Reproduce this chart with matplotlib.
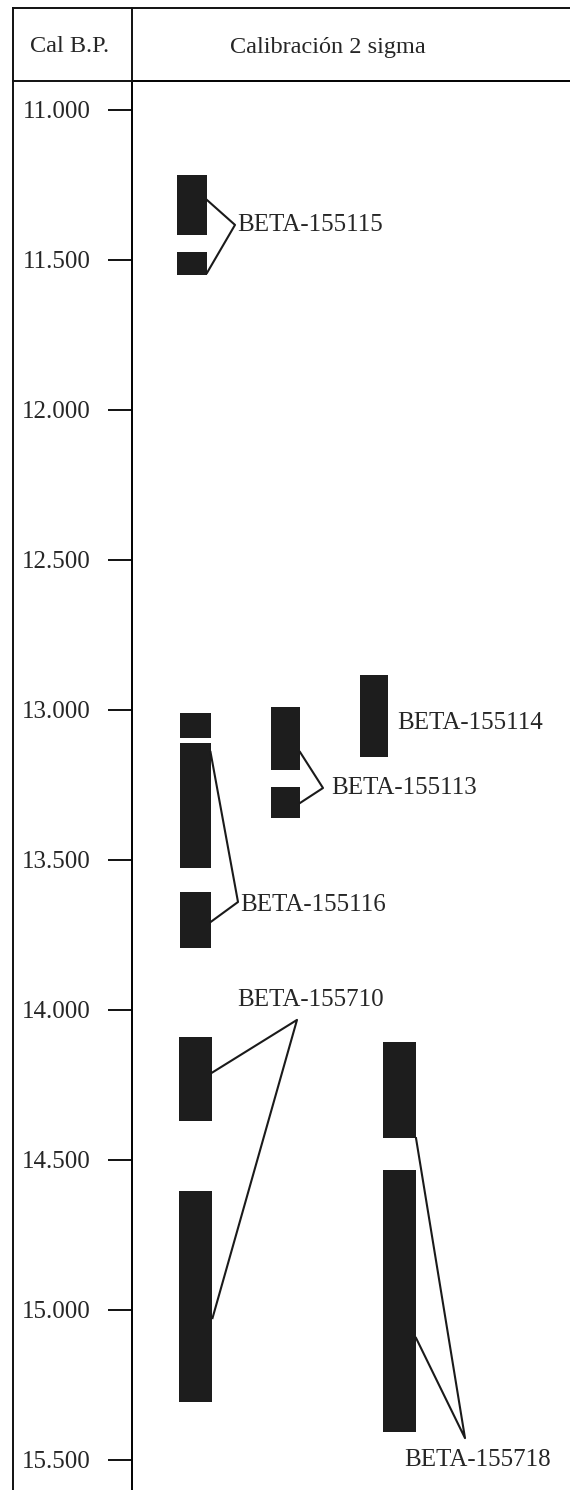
import matplotlib
matplotlib.use("Agg")
import matplotlib.pyplot as plt
from matplotlib.lines import Line2D

# ---------------- data ----------------
tick_values = [11000, 11500, 12000, 12500, 13000, 13500, 14000, 14500, 15000, 15500]
tick_labels = ["11.000", "11.500", "12.000", "12.500", "13.000",
               "13.500", "14.000", "14.500", "15.000", "15.500"]

samples = ["BETA-155115", "BETA-155116", "BETA-155113", "BETA-155114",
           "BETA-155710", "BETA-155718"]
# 2-sigma calibrated ranges (cal B.P.), start/end per segment
b155115_start = [11217, 11473]
b155115_end = [11417, 11550]
b155116_start = [13010, 13110, 13607]
b155116_end = [13093, 13527, 13793]
b155113_start = [12990, 13257]
b155113_end = [13200, 13360]
b155114_start = [12883]
b155114_end = [13157]
b155710_start = [14090, 14603]
b155710_end = [14370, 15307]
b155718_start = [14107, 14533]
b155718_end = [14427, 15407]

# ---------------- figure ----------------
W, H = 570, 1490
DPI = 100
fig = plt.figure(figsize=(W / DPI, H / DPI), dpi=DPI)
FONT = "Liberation Serif"
plt.rcParams["font.family"] = FONT
TXT = "#262626"

def fx(px):
    return px / W

def fy(py):
    return 1 - py / H

left_px, top_px = 132, 81
ax = fig.add_axes([fx(left_px), 0, 1 - fx(left_px), fy(top_px)])
ax.set_xlim(left_px, W)
k = 0.300          # px per year
y11000 = 110       # px position of 11.000
y_top = 11000 - (y11000 - top_px) / k
y_bot = 11000 + (H - y11000) / k
ax.set_ylim(y_bot, y_top)

for s in ["right", "bottom"]:
    ax.spines[s].set_visible(False)
ax.spines["left"].set_linewidth(1.4)
ax.spines["top"].set_linewidth(1.4)
ax.set_xticks([])
ax.set_yticks(tick_values)
ax.set_yticklabels(tick_labels, fontsize=18, family=FONT)
ax.tick_params(axis="y", direction="out", length=17, width=1.4, pad=13,
               colors="#111111", labelcolor=TXT)

bar_color = "#1d1d1d"
cols = {"BETA-155115": 192, "BETA-155116": 195, "BETA-155113": 285.5,
        "BETA-155114": 374, "BETA-155710": 195, "BETA-155718": 399.5}
widths = {"BETA-155115": 30, "BETA-155116": 31, "BETA-155113": 29,
          "BETA-155114": 28, "BETA-155710": 33, "BETA-155718": 33}
series = {
    "BETA-155115": (b155115_start, b155115_end),
    "BETA-155116": (b155116_start, b155116_end),
    "BETA-155113": (b155113_start, b155113_end),
    "BETA-155114": (b155114_start, b155114_end),
    "BETA-155710": (b155710_start, b155710_end),
    "BETA-155718": (b155718_start, b155718_end),
}
for name in samples:
    st, en = series[name]
    ax.bar([cols[name]] * len(st), [e - s for s, e in zip(st, en)], bottom=st,
           width=widths[name], color=bar_color, edgecolor="none", linewidth=0)

lw = 1.5
lc = "#1a1a1a"
fs = 18

def rx(name):
    return cols[name] + widths[name] / 2

n = "BETA-155115"
ax.plot([rx(n), 235, rx(n)], [11300, 11383, 11543], color=lc, lw=lw)
ax.text(237, 11383, n, fontsize=fs, va="center", ha="left", color=TXT)

n = "BETA-155116"
ax.plot([rx(n), 238, rx(n)], [13140, 13640, 13707], color=lc, lw=lw)
ax.text(240, 13650, n, fontsize=fs, va="center", ha="left", color=TXT)

n = "BETA-155113"
ax.plot([rx(n), 323, rx(n)], [13140, 13260, 13310], color=lc, lw=lw)
ax.text(331, 13260, n, fontsize=fs, va="center", ha="left", color=TXT)

n = "BETA-155114"
ax.text(397, 13043, n, fontsize=fs, va="center", ha="left", color=TXT)

n = "BETA-155710"
ax.plot([rx(n), 297, rx(n) + 1], [14210, 14033, 15027], color=lc, lw=lw)
ax.text(311, 13967, n, fontsize=fs, va="center", ha="center", color=TXT)

n = "BETA-155718"
ax.plot([rx(n), 465, rx(n)], [14427, 15427, 15093], color=lc, lw=lw)
ax.text(478, 15500, n, fontsize=fs, va="center", ha="center", color=TXT)

# ---------------- header / table frame ----------------
frame_lw = 1.4
fc = "#111111"
fig.add_artist(Line2D([fx(13), fx(13)], [fy(8), 0], color=fc, lw=frame_lw))
fig.add_artist(Line2D([fx(left_px), fx(left_px)], [fy(8), fy(top_px)], color=fc, lw=frame_lw))
fig.add_artist(Line2D([fx(13), 1], [fy(8), fy(8)], color=fc, lw=frame_lw))
fig.add_artist(Line2D([fx(13), fx(left_px)], [fy(top_px), fy(top_px)], color=fc, lw=frame_lw))

fig.text(fx(70), fy(47), "Cal B.P.", fontsize=17.5, ha="center", va="center", color=TXT)
fig.text(fx(328), fy(47), "Calibración 2 sigma", fontsize=17.5, ha="center", va="center", color=TXT)

fig.savefig("out.png", dpi=DPI, facecolor="white")
